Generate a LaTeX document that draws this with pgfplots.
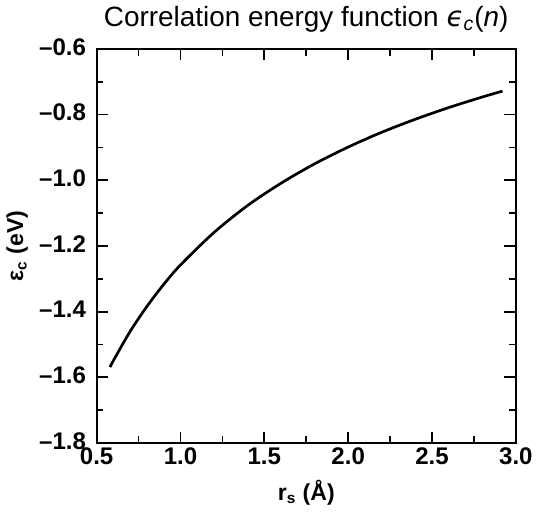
\documentclass[border=0pt]{standalone}
\usepackage{fontspec}
\setmainfont{Liberation Sans}
\newfontfamily\dejavu{DejaVu Sans}
\usepackage{pgfplots}
\pgfplotsset{compat=1.18}

\begin{document}
\begin{tikzpicture}
\begin{axis}[
  width=218pt, height=205pt, scale only axis,
  xmin=0.5, xmax=3.0, ymin=-1.8, ymax=-0.6,
  xtick={0.5,1.0,1.5,2.0,2.5,3.0},
  xticklabels={0.5,1.0,1.5,2.0,2.5,3.0},
  ytick={-1.8,-1.6,-1.4,-1.2,-1.0,-0.8,-0.6},
  yticklabels={--1.8,--1.6,--1.4,--1.2,--1.0,--0.8,--0.6},
  minor x tick num=1, minor y tick num=1,
  tick align=inside, tick pos=both,
  major tick length=6pt, minor tick length=3.5pt,
  every tick/.style={black, line width=0.9pt},
  axis line style={line width=1pt},
  tick label style={font=\fontsize{12.5}{14}\selectfont\bfseries},
  xticklabel style={yshift=1pt},
  yticklabel style={xshift=-2pt, yshift=1pt},
  xlabel={\textbf{r\textsubscript{s} (Å)}},
  ylabel={\textbf{ε\textsubscript{c} (eV)}},
  label style={font=\fontsize{12}{13}\selectfont},
  xlabel style={yshift=-1pt},
  ylabel style={yshift=-1pt},
  title={Correlation energy function {\dejavu\itshape ϵ}\textsubscript{\itshape c}(\textit{n})},
  title style={font=\fontsize{14.5}{15}\selectfont, yshift=-1pt},
]
\addplot[black, line width=1.4pt, smooth] coordinates {
  (0.58,-1.569)(0.60,-1.549)(0.70,-1.460)(0.80,-1.384)(0.90,-1.317)
  (1.00,-1.258)(1.20,-1.159)(1.40,-1.077)(1.60,-1.009)(1.80,-0.950)
  (2.00,-0.899)(2.20,-0.854)(2.40,-0.8145)(2.60,-0.7788)(2.80,-0.7467)
  (2.92,-0.7288)
};
\end{axis}
\end{tikzpicture}
\end{document}
